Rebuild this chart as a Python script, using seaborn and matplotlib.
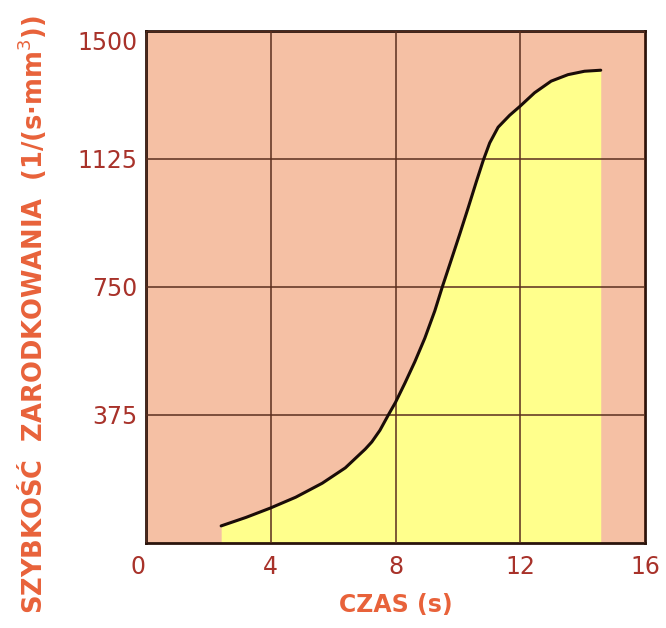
import numpy as np
import pandas as pd
import matplotlib
matplotlib.use('Agg')
import matplotlib.pyplot as plt
import seaborn as sns

# dane
czas = [2.41, 3.21, 3.98, 4.8, 5.65, 6.39, 7.03, 7.24, 7.5, 7.77, 8.0, 8.3,
        8.62, 8.94, 9.26, 9.5, 9.79, 10.06, 10.33, 10.59, 10.81, 11.02,
        11.29, 11.66, 12.0, 12.46, 12.99, 13.53, 14.06, 14.58]
szybkosc = [50, 75, 102, 134, 175, 220, 275, 296, 330, 375, 412, 468,
            531, 600, 680, 750, 830, 905, 982, 1058, 1120, 1172,
            1218, 1253, 1280, 1319, 1353, 1372, 1382, 1385]

x_ticks = [0, 4, 8, 12, 16]
y_ticks = [375, 750, 1125, 1500]

df = pd.DataFrame({'czas': czas, 'szybkosc': szybkosc})

sns.set_style('white')
plt.rcParams['font.family'] = ['DejaVu Sans']

tlo = '#F5C0A4'
zolty = '#FFFF8C'
siatka = '#5A2E1E'
kolor_tick = '#A8322A'
kolor_opis = '#E8623A'

fig = plt.figure(figsize=(6.66, 6.28), dpi=100)
ax = fig.add_axes([0.2192, 0.1354, 0.7493, 0.8153])
ax.set_facecolor(tlo)

ax.fill_between(df['czas'], 0, df['szybkosc'], color=zolty, linewidth=0, zorder=1)
sns.lineplot(data=df, x='czas', y='szybkosc', color='#1a0c08', linewidth=2.2,
             ax=ax, zorder=3)
ax.lines[-1].set_solid_joinstyle('round')
ax.lines[-1].set_solid_capstyle('round')

ax.set_xlim(0, 16)
ax.set_ylim(0, 1500)
ax.set_xticks(x_ticks)
ax.set_yticks(y_ticks)
ax.grid(True, color=siatka, linewidth=1.1, zorder=2)
ax.set_axisbelow(False)
for line in ax.get_xgridlines() + ax.get_ygridlines():
    line.set_zorder(2)

for s in ax.spines.values():
    s.set_color('#2a140c')
    s.set_linewidth(2)

ax.tick_params(axis='both', length=0, labelsize=17, labelcolor=kolor_tick,
               pad=6)
ax.tick_params(axis='x', pad=9)
xl = ax.get_xticklabels()
xl[0].set_horizontalalignment('right')
yl = ax.get_yticklabels()
yl[-1].set_verticalalignment('top')

ax.set_xlabel('CZAS (s)', fontsize=17, fontweight='bold', color=kolor_opis,
              labelpad=10)
ax.set_ylabel('SZYBKOŚĆ  ZARODKOWANIA  (1/(s·mm$^3$))', fontsize=18.5,
              fontweight='bold', color=kolor_opis)
ax.yaxis.set_label_coords(-0.196, 0.447)

fig.savefig('out.png', dpi=100, facecolor='white')
